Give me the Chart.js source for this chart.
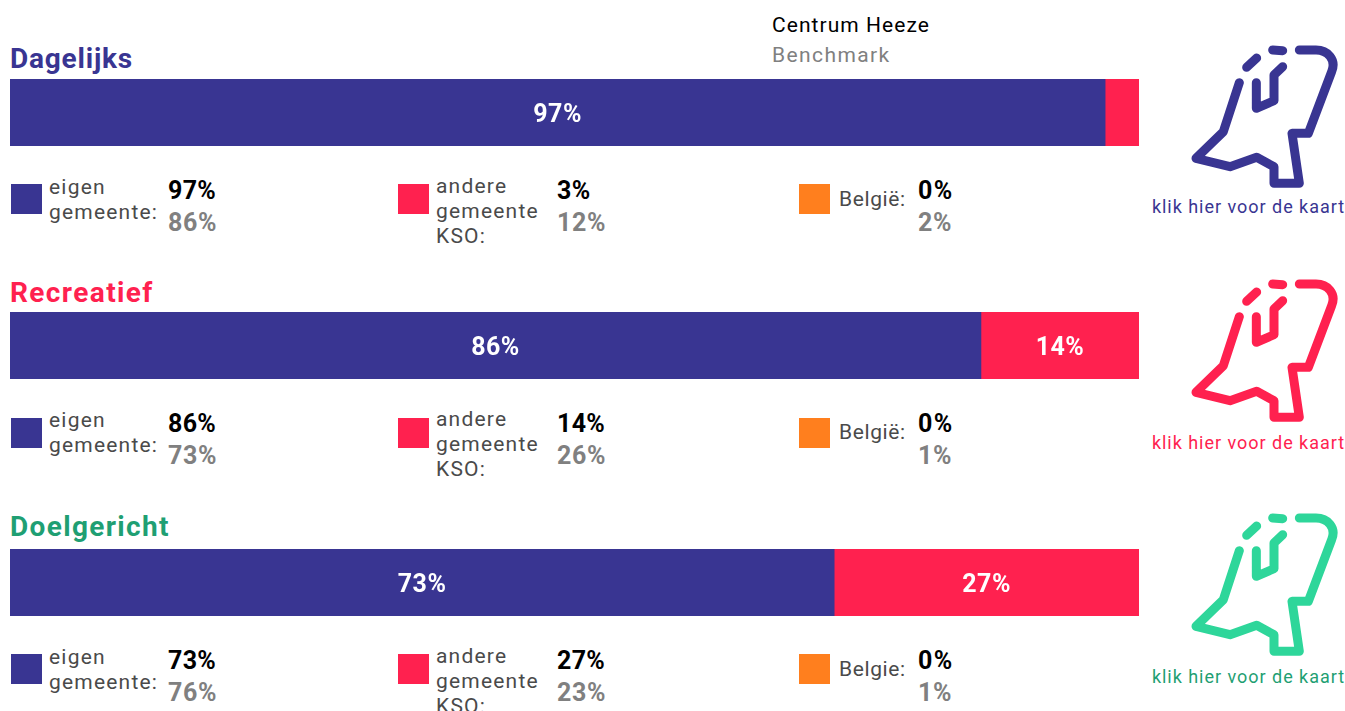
<!DOCTYPE html>
<html><head><meta charset="utf-8">
<script src="https://cdn.jsdelivr.net/npm/chart.js@4"></script>
<style>
html,body{margin:0;padding:0;background:#fff;overflow:hidden}
#page{position:relative;width:1345px;height:711px;overflow:hidden;font-family:Roboto,sans-serif}
.abs{position:absolute;white-space:nowrap}
.title{font-weight:700;font-size:28px;line-height:32px}
.lab{font-size:21px;line-height:25px;color:#4a4a4a;letter-spacing:1.2px}
.now{font-size:25px;line-height:28px;font-weight:700;color:#000;letter-spacing:.3px}
.bm{font-size:25px;line-height:28px;font-weight:700;color:#808080;letter-spacing:.6px}
.sw{width:31px;height:30px}
.link{font-size:18px;line-height:22px;letter-spacing:.97px;width:205px;text-align:center}
canvas{position:absolute;left:10px;width:1129px;height:67px}
</style></head><body><div id="page"></div>
<script>
const categories=["Dagelijks","Recreatief","Doelgericht"];
const eigenGemeente=[97,86,73];
const andereGemeente=[3,14,27];
const belgie=[0,0,0];
const benchEigen=[86,73,76];
const benchAndere=[12,26,23];
const benchBelgie=[2,1,1];
const belgieLabels=["België:","België:","Belgie:"];
const seriesColors=["#393592","#ff214f","#ff7f1e"];
const titleColors=["#393592","#ff214f","#1f9f73"];
const iconColors=["#393592","#ff214f","#2ed69a"];
const titleSpacings=["0.8px","1.4px","1.35px"];
const barTops=[79,312,549];
const titleTops=[43,277,511];
const legendTops=[174,407,644];
const swatchTops=[184,418,654];
const iconTops=[30,264,498];
const linkTops=[196,432,666];
const page=document.getElementById('page');
function add(cls,text,left,top,style){const d=document.createElement('div');d.className='abs '+cls;d.innerHTML=text;d.style.left=left+'px';d.style.top=top+'px';if(style)Object.assign(d.style,style);page.appendChild(d);return d;}
add('','Centrum Heeze',772,11,{fontSize:'21px',lineHeight:'28px',color:'#000',letterSpacing:'1.05px'});
add('','Benchmark',772,41,{fontSize:'21px',lineHeight:'28px',color:'#808080',letterSpacing:'1.4px'});
const inBarLabels={id:'inBarLabels',afterDatasetsDraw(chart){const c=chart.ctx;c.save();c.fillStyle='#fff';c.font='700 25px Roboto';c.letterSpacing='.5px';c.textAlign='center';c.textBaseline='middle';
 chart.data.datasets.forEach((ds,i)=>{chart.getDatasetMeta(i).data.forEach((el,j)=>{const v=ds.data[j];if(v<5)return;const cx=(el.base+el.x)/2;c.fillText(v+'%',cx,el.y+3.5);});});c.restore();}};
categories.forEach((cat,i)=>{
 add('title',cat,10,titleTops[i],{color:titleColors[i],letterSpacing:titleSpacings[i]});
 const cv=document.createElement('canvas');cv.style.top=barTops[i]+'px';cv.width=1129;cv.height=67;page.appendChild(cv);
 new Chart(cv,{type:'bar',plugins:[inBarLabels],data:{labels:[cat],datasets:[
  {label:'eigen gemeente',data:[eigenGemeente[i]],backgroundColor:seriesColors[0]},
  {label:'andere gemeente KSO',data:[andereGemeente[i]],backgroundColor:seriesColors[1]},
  {label:'België',data:[belgie[i]],backgroundColor:seriesColors[2]}]},
  options:{indexAxis:'y',responsive:false,animation:false,maintainAspectRatio:false,layout:{padding:0},
   datasets:{bar:{barPercentage:1,categoryPercentage:1,borderWidth:0}},
   plugins:{legend:{display:false},tooltip:{enabled:false}},
   scales:{x:{stacked:true,min:0,max:100,display:false},y:{stacked:true,display:false}}}});
 const t=legendTops[i];
 add('sw','',11,swatchTops[i],{background:seriesColors[0]});
 add('lab','eigen<br>gemeente:',49,t+1);
 add('now',eigenGemeente[i]+'%',168,t+3);
 add('bm',benchEigen[i]+'%',168,t+35);
 add('sw','',398,swatchTops[i],{background:seriesColors[1]});
 add('lab','andere<br>gemeente<br>KSO:',436,t);
 add('now',andereGemeente[i]+'%',557,t+3);
 add('bm',benchAndere[i]+'%',557,t+35);
 add('sw','',799,swatchTops[i],{background:seriesColors[2]});
 add('lab',belgieLabels[i],839,t+13,{letterSpacing:'.6px'});
 add('now',belgie[i]+'%',918,t+3,{letterSpacing:'1.5px'});
 add('bm',benchBelgie[i]+'%',918,t+35);
 const col=iconColors[i];
 const icon=document.createElement('div');icon.className='abs';icon.style.left='1140px';icon.style.top=iconTops[i]+'px';
 icon.innerHTML='<svg width="205" height="200" viewBox="0 0 615 600" fill="none" stroke="'+col+'" stroke-width="27" stroke-linecap="round" stroke-linejoin="round"><path d="M298 158L250 305L168 385L270 410L350 382L402 410V460H478L456 310H505L575 125C590 88 562 60 528 60H478"/><path d="M349 158V235L402 212V135L428 110"/><path d="M320 112L350 84"/><path d="M398 60L428 62"/></svg>';
 page.appendChild(icon);
 add('link','klik hier voor de kaart',1146,linkTops[i],{color:titleColors[i]});
});
</script></body></html>
